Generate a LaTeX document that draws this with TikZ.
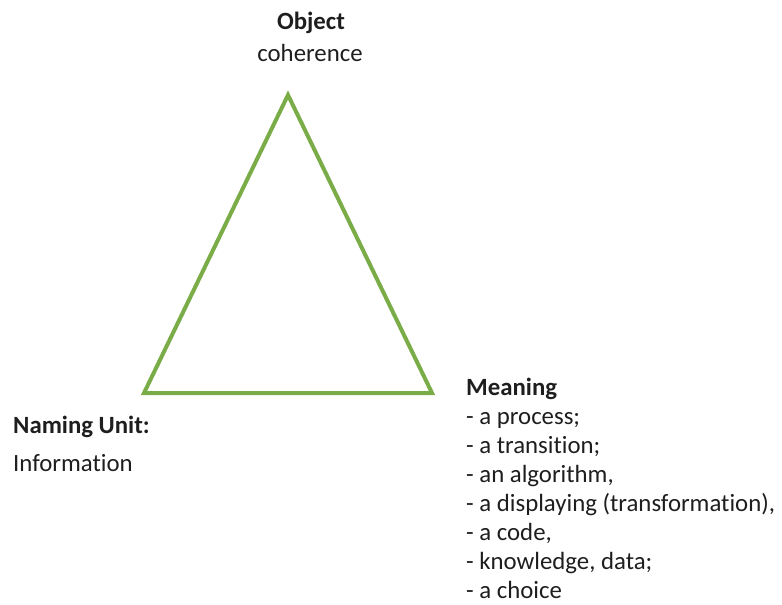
\documentclass[tikz,border=0pt]{standalone}
\usepackage{fontspec}
\setmainfont{Carlito}[Ligatures={NoCommon,NoContextual}]
\definecolor{trigreen}{RGB}{122,172,72}
\definecolor{txt}{RGB}{30,30,30}
\begin{document}
\begin{tikzpicture}[x=1pt,y=-1pt,
  lbl/.style={inner sep=0pt,font=\fontsize{24.8}{29.5}\selectfont,text=txt},
  edge/.style={draw=trigreen,line width=4pt,line join=miter}]
\useasboundingbox (0,0) rectangle (782,605);
\coordinate (top) at (288,95);
\coordinate (bl) at (144,393);
\coordinate (br) at (432,393);
\draw[edge] (top) -- (bl) -- (br) -- cycle;
\node[lbl,anchor=base] (obj) at (311,29) {\bfseries Object};
\node[lbl,anchor=base] (coh) at (310,61) {coherence};
\node[lbl,anchor=base west] (nu) at (13,433) {\bfseries Naming Unit:};
\node[lbl,anchor=base west] (inf) at (13,471) {Information};
\node[lbl,anchor=base west] (mean) at (466,395) {\bfseries Meaning};
\foreach \t [count=\i] in {- a process;,- a transition;,- an algorithm{,},- a displaying (transformation){,},- a code{,},{- knowledge, data;}}
  \node[lbl,anchor=base west] (m\i) at (466,{395+29*\i}) {\t};
\node[lbl,anchor=base west,text depth=0pt] (m7) at (466,{395+29*7}) {- a choice};
\end{tikzpicture}
\end{document}
